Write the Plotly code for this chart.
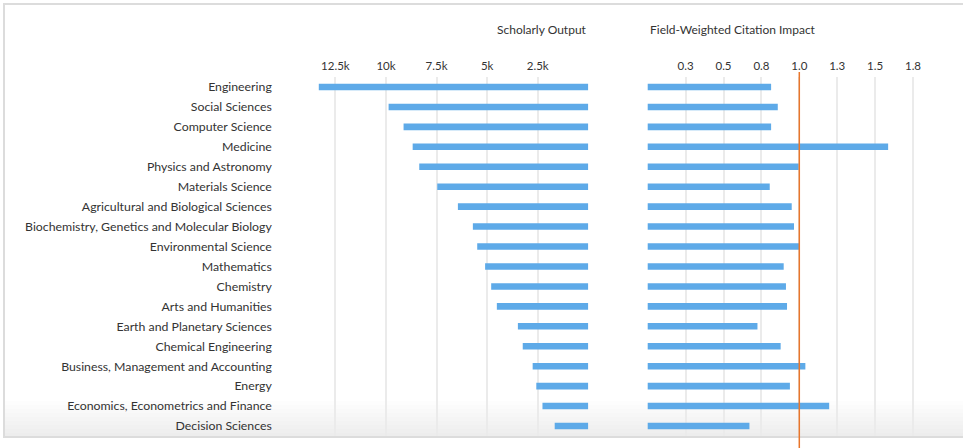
import plotly.graph_objects as go

categories = [
    "Engineering", "Social Sciences", "Computer Science", "Medicine",
    "Physics and Astronomy", "Materials Science",
    "Agricultural and Biological Sciences",
    "Biochemistry, Genetics and Molecular Biology",
    "Environmental Science", "Mathematics", "Chemistry",
    "Arts and Humanities", "Earth and Planetary Sciences",
    "Chemical Engineering", "Business, Management and Accounting",
    "Energy", "Economics, Econometrics and Finance", "Decision Sciences",
]
scholarly_output = [13320, 9870, 9130, 8680, 8355, 7465, 6445, 5705, 5490,
                    5100, 4800, 4520, 3480, 3240, 2750, 2570, 2265, 1660]
fwci = [0.814, 0.858, 0.814, 1.586, 0.996, 0.805, 0.950, 0.965, 0.998,
        0.897, 0.912, 0.919, 0.724, 0.877, 1.040, 0.938, 1.197, 0.671]

out_tickvals = [0, 2500, 5000, 7500, 10000, 12500, 15000]
out_ticktext = ["", "2.5k", "5k", "7.5k", "10k", "12.5k", ""]
fw_tickvals = [-0.192, 0.25, 0.5, 0.75, 1.0, 1.25, 1.5, 1.75, 2.0]
fw_ticktext = ["", "0.3", "0.5", "0.8", "1.0", "1.3", "1.5", "1.8", ""]

W, H = 963, 448
TOP, BOT = 77, 436
ph = BOT - TOP

def px(x):
    return x / W

def py(y):
    return (BOT - y) / ph

BLUE = "#5eaae8"
GRID = "#ebebeb"
TXT = "#333333"
FONT = "Lato"

fig = go.Figure()
fig.add_trace(go.Bar(y=categories, x=scholarly_output, orientation="h",
                     marker=dict(color=BLUE, line=dict(width=0)), width=0.33,
                     xaxis="x", yaxis="y", showlegend=False))
fig.add_trace(go.Bar(y=categories, x=fwci, orientation="h",
                     marker=dict(color=BLUE, line=dict(width=0)), width=0.33,
                     xaxis="x2", yaxis="y2", showlegend=False))

shapes = []
# subtle bottom shading
n = 9
for i in range(n):
    y0 = 437 - (i + 1) * 4
    shapes.append(dict(type="rect", xref="paper", yref="paper",
                       x0=px(4), x1=1.02, y0=py(437), y1=py(y0),
                       fillcolor="rgba(0,0,0,0.007)", line=dict(width=0),
                       layer="below"))
# outer border
shapes.append(dict(type="rect", xref="paper", yref="paper",
                   x0=px(4), x1=1.05, y0=py(437), y1=py(4),
                   line=dict(color="#dcdcdc", width=2), fillcolor="rgba(0,0,0,0)",
                   layer="below"))
# reference line at 1.0
shapes.append(dict(type="line", xref="x2", yref="paper", x0=1.0, x1=1.0,
                   y0=py(450), y1=py(72),
                   line=dict(color="#e8762b", width=1.5)))

fig.update_layout(
    width=W, height=H,
    margin=dict(l=0, r=0, t=TOP, b=H - BOT),
    paper_bgcolor="white", plot_bgcolor="rgba(0,0,0,0)",
    font=dict(family=FONT, size=12, color=TXT),
    bargap=0.67,
    xaxis=dict(domain=[px(284.8), px(588.3)], range=[15000, 0],
               side="top", tickvals=out_tickvals, ticktext=out_ticktext,
               showgrid=True, gridcolor=GRID, gridwidth=1.5,
               zeroline=False, showline=False, ticks="",
               tickfont=dict(size=11.5, color=TXT), ticklabelstandoff=4,
               fixedrange=True),
    xaxis2=dict(domain=[px(618.3), px(950.9)], range=[-0.194, 2.0],
                side="top", tickvals=fw_tickvals, ticktext=fw_ticktext,
                showgrid=True, gridcolor=GRID, gridwidth=1.5,
                zeroline=False, showline=False, ticks="",
                tickfont=dict(size=11.5, color=TXT), ticklabelstandoff=4,
                anchor="y2", fixedrange=True),
    yaxis=dict(domain=[0, 1], autorange="reversed", anchor="x",
               showgrid=False, zeroline=False, showline=False, ticks="",
               tickfont=dict(size=12.3, color=TXT), ticklabelstandoff=12,
               fixedrange=True),
    yaxis2=dict(domain=[0, 1], matches="y", anchor="x2",
                showticklabels=False, showgrid=False, zeroline=False,
                showline=False, ticks="", fixedrange=True),
    shapes=shapes,
    annotations=[
        dict(text="Scholarly Output", xref="paper", yref="paper",
             x=px(588.5), y=py(29), xanchor="right", yanchor="middle",
             showarrow=False, font=dict(size=12, color=TXT)),
        dict(text="Field-Weighted Citation Impact", xref="paper", yref="paper",
             x=px(647.5), y=py(29), xanchor="left", yanchor="middle",
             showarrow=False, font=dict(size=12, color=TXT)),
    ],
)

fig.write_html(
    "out.html",
    config={"displayModeBar": False},
    post_script="document.body.style.margin='0';document.body.style.overflow='hidden';",
)
